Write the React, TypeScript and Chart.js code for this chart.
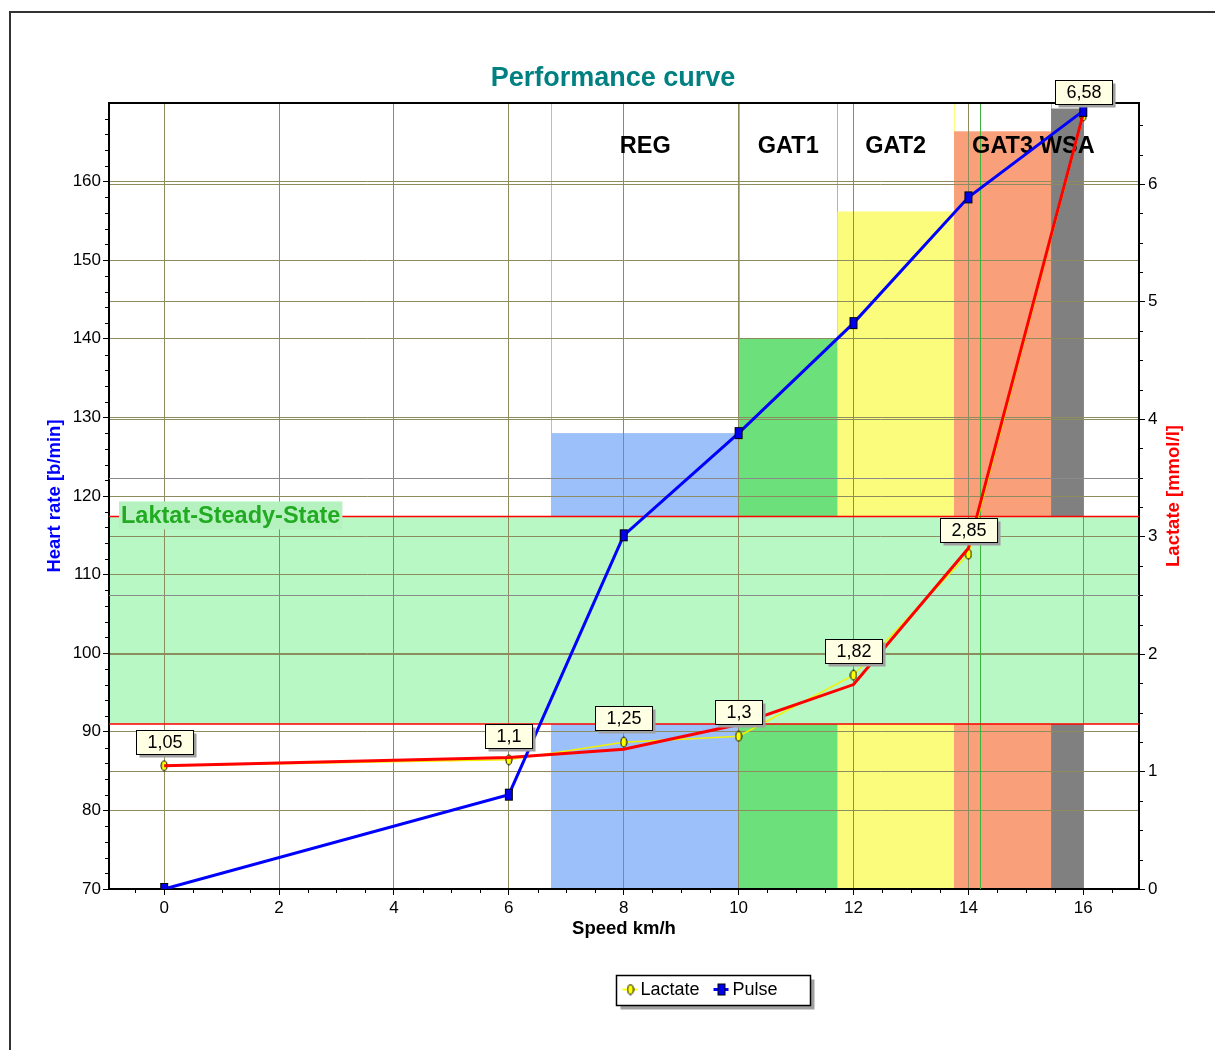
import React, { useEffect, useRef } from 'react';
import { Chart, registerables } from 'chart.js';

Chart.register(...registerables);

// ---- data ----
const speeds = [0, 6, 8, 10, 12, 14, 16];
const lactate = [1.05, 1.1, 1.25, 1.3, 1.82, 2.85, 6.58];
const lactateFit = [1.05, 1.12, 1.19, 1.4, 1.74, 2.9, 6.6];
const pulse = [70, 82, 115, 128, 142, 158, 169];

const zoneNames = ['REG', 'GAT1', 'GAT2', 'GAT3', 'WSA'];
const zoneFrom = [6.74, 10.01, 11.72, 13.75, 15.44];
const zoneTo = [10.01, 11.72, 13.75, 15.44, 16];
const zoneTopPulse = [128, 140, 156.2, 166.4, 169.3];
const zoneColors = ['#9cc0fa', '#6ce07a', '#fbfb7c', '#f9a07a', '#808080'];

const steadyStatePulse = [91, 117.4];
const markerLactate = [2.5, 3.5];
const thresholdSpeed = [14.2];

const speedTicks = [0, 2, 4, 6, 8, 10, 12, 14, 16];
const pulseTicks = [70, 80, 90, 100, 110, 120, 130, 140, 150, 160];
const lactateTicks = [0, 1, 2, 3, 4, 5, 6];

const FONT = '"Liberation Sans", Arial, Helvetica, sans-serif';
const OLIVE = '#8c8c5e';

function makeEllipse(): HTMLCanvasElement {
  const c = document.createElement('canvas');
  c.width = 8;
  c.height = 12;
  const g = c.getContext('2d')!;
  g.beginPath();
  g.ellipse(4, 6, 3, 5, 0, 0, Math.PI * 2);
  g.fillStyle = '#ffff00';
  g.fill();
  g.lineWidth = 1;
  g.strokeStyle = '#000';
  g.stroke();
  return c;
}

function makeSquare(): HTMLCanvasElement {
  const c = document.createElement('canvas');
  c.width = 10;
  c.height = 14;
  const g = c.getContext('2d')!;
  g.fillStyle = '#0000ee';
  g.fillRect(1, 1, 8, 12);
  g.lineWidth = 1;
  g.strokeStyle = '#000';
  g.strokeRect(1.5, 1.5, 7, 11);
  return c;
}

export default function App() {
  const ref = useRef<HTMLCanvasElement | null>(null);

  useEffect(() => {
    if (!ref.current) return;
    const ellipse = makeEllipse();
    const square = makeSquare();

    const decor = {
      id: 'decor',
      beforeDraw(chart: any) {
        const { ctx, chartArea: a, scales } = chart;
        const { x, y } = scales;
        ctx.save();
        // frame
        ctx.strokeStyle = '#333';
        ctx.lineWidth = 2;
        ctx.beginPath();
        ctx.moveTo(10, 1050);
        ctx.lineTo(10, 12);
        ctx.lineTo(1215, 12);
        ctx.stroke();
        // zone edge lines
        ctx.lineWidth = 1;
        zoneNames.forEach((_, i) => {
          const px = Math.round(x.getPixelForValue(zoneFrom[i])) + 0.5;
          ctx.strokeStyle = zoneColors[i];
          ctx.beginPath();
          ctx.moveTo(px, a.top);
          ctx.lineTo(px, a.bottom);
          ctx.stroke();
        });
        zoneNames.forEach((_, i) => {
          const px = Math.round(x.getPixelForValue(zoneTo[i])) + 0.5;
          ctx.strokeStyle = i === 0 ? '#6ce07a' : zoneColors[i];
          ctx.beginPath();
          ctx.moveTo(px, a.top);
          ctx.lineTo(px, a.bottom);
          ctx.stroke();
        });
        // zone fills
        zoneNames.forEach((_, i) => {
          const x0 = x.getPixelForValue(zoneFrom[i]);
          const x1 = x.getPixelForValue(zoneTo[i]);
          const yt = y.getPixelForValue(zoneTopPulse[i]);
          ctx.fillStyle = zoneColors[i];
          ctx.fillRect(x0, yt, x1 - x0, a.bottom - yt);
        });
        // steady state band
        const b0 = y.getPixelForValue(steadyStatePulse[1]);
        const b1 = y.getPixelForValue(steadyStatePulse[0]);
        ctx.fillStyle = '#b8f8c4';
        ctx.fillRect(a.left, b0, a.right - a.left, b1 - b0);
        ctx.restore();
      },
      beforeDatasetsDraw(chart: any) {
        const { ctx, chartArea: a, scales } = chart;
        const { x, y, y2 } = scales;
        ctx.save();
        // marker lines
        ctx.strokeStyle = '#8a8a8a';
        ctx.lineWidth = 1;
        markerLactate.forEach((v) => {
          const py = Math.round(y2.getPixelForValue(v)) + 0.5;
          ctx.beginPath();
          ctx.moveTo(a.left, py);
          ctx.lineTo(a.right, py);
          ctx.stroke();
        });
        ctx.strokeStyle = '#3cb43c';
        thresholdSpeed.forEach((v) => {
          const px = Math.round(x.getPixelForValue(v)) + 0.5;
          ctx.beginPath();
          ctx.moveTo(px, a.top);
          ctx.lineTo(px, a.bottom);
          ctx.stroke();
        });
        // band edges
        ctx.strokeStyle = '#ff0000';
        ctx.lineWidth = 1.5;
        steadyStatePulse.forEach((v) => {
          const py = y.getPixelForValue(v);
          ctx.beginPath();
          ctx.moveTo(a.left, py);
          ctx.lineTo(a.right, py);
          ctx.stroke();
        });
        // steady state label
        const bt = y.getPixelForValue(steadyStatePulse[1]);
        ctx.font = `bold 23.5px ${FONT}`;
        const label = 'Laktat-Steady-State';
        const tw = ctx.measureText(label).width;
        ctx.fillStyle = '#b6f2c0';
        ctx.fillRect(a.left + 10, bt - 15, tw + 4, 28);
        ctx.fillStyle = '#22aa22';
        ctx.textBaseline = 'middle';
        ctx.textAlign = 'left';
        ctx.fillText(label, a.left + 12, bt);
        // zone labels
        ctx.fillStyle = '#000';
        ctx.textAlign = 'center';
        zoneNames.forEach((n, i) => {
          const cx = (x.getPixelForValue(zoneFrom[i]) + x.getPixelForValue(zoneTo[i])) / 2;
          ctx.fillText(n, cx, a.top + 44);
        });
        // top border of plot
        ctx.strokeStyle = '#000';
        ctx.lineWidth = 2;
        ctx.beginPath();
        ctx.moveTo(a.left, a.top);
        ctx.lineTo(a.right, a.top);
        ctx.stroke();
        ctx.restore();
      },
      afterDraw(chart: any) {
        const { ctx, chartArea: a, scales } = chart;
        const { x, y, y2 } = scales;
        ctx.save();
        // minor ticks
        ctx.strokeStyle = '#000';
        ctx.lineWidth = 1;
        for (let v = y.min + 2; v < y.max; v += 2) {
          if (Math.abs(v % 10) < 1e-6) continue;
          const py = Math.round(y.getPixelForValue(v)) + 0.5;
          ctx.beginPath();
          ctx.moveTo(a.left - 4, py);
          ctx.lineTo(a.left, py);
          ctx.stroke();
        }
        for (let k = 1; k * 0.25 < y2.max; k++) {
          if (k % 4 === 0) continue;
          const py = Math.round(y2.getPixelForValue(k * 0.25)) + 0.5;
          ctx.beginPath();
          ctx.moveTo(a.right, py);
          ctx.lineTo(a.right + 4, py);
          ctx.stroke();
        }
        for (let k = -1; k * 0.5 < x.max; k++) {
          if (k % 4 === 0) continue;
          const px = Math.round(x.getPixelForValue(k * 0.5)) + 0.5;
          ctx.beginPath();
          ctx.moveTo(px, a.bottom);
          ctx.lineTo(px, a.bottom + 4);
          ctx.stroke();
        }
        // right axis title
        ctx.save();
        ctx.translate(1174, (a.top + a.bottom) / 2);
        ctx.rotate(-Math.PI / 2);
        ctx.font = `bold 18.5px ${FONT}`;
        ctx.fillStyle = '#ff0000';
        ctx.textAlign = 'center';
        ctx.textBaseline = 'middle';
        ctx.fillText('Lactate [mmol/l]', 0, 0);
        ctx.restore();
        // value labels
        const meta = chart.getDatasetMeta(2);
        ctx.font = `18px ${FONT}`;
        ctx.textAlign = 'center';
        ctx.textBaseline = 'middle';
        meta.data.forEach((pt: any, i: number) => {
          const txt = String(lactate[i]).replace('.', ',');
          const w = ctx.measureText(txt).width + 22;
          const h = 24;
          const bx = Math.round(pt.x - w / 2) + 0.5;
          const by = Math.round(pt.y - 12 - h) + 0.5;
          ctx.fillStyle = '#a0a0a0';
          ctx.fillRect(bx + 3, by + 3, w, h);
          ctx.fillStyle = '#ffffe4';
          ctx.fillRect(bx, by, w, h);
          ctx.strokeStyle = '#000';
          ctx.lineWidth = 1;
          ctx.strokeRect(bx, by, w, h);
          ctx.fillStyle = '#000';
          ctx.fillText(txt, bx + w / 2, by + h / 2 + 1);
        });
        // legend
        const lx = 616.5, ly = 975.5, lw = 194, lh = 30;
        ctx.fillStyle = '#a0a0a0';
        ctx.fillRect(lx + 4, ly + 4, lw, lh);
        ctx.fillStyle = '#fff';
        ctx.fillRect(lx, ly, lw, lh);
        ctx.strokeStyle = '#000';
        ctx.lineWidth = 1.5;
        ctx.strokeRect(lx, ly, lw, lh);
        const cy = ly + 14;
        ctx.strokeStyle = '#ffff00';
        ctx.lineWidth = 2;
        ctx.beginPath();
        ctx.moveTo(lx + 6, cy);
        ctx.lineTo(lx + 21, cy);
        ctx.stroke();
        ctx.drawImage(ellipse, lx + 14 - 4, cy - 6);
        ctx.strokeStyle = '#0000ff';
        ctx.lineWidth = 3;
        ctx.beginPath();
        ctx.moveTo(lx + 97, cy);
        ctx.lineTo(lx + 112, cy);
        ctx.stroke();
        ctx.drawImage(square, lx + 105 - 5, cy - 7);
        ctx.fillStyle = '#000';
        ctx.font = `18px ${FONT}`;
        ctx.textAlign = 'left';
        ctx.textBaseline = 'middle';
        ctx.fillText('Lactate', lx + 24, cy + 1);
        ctx.fillText('Pulse', lx + 116, cy + 1);
        ctx.restore();
      },
    };

    const tickFont = { family: FONT, size: 17 };

    const chart = new Chart(ref.current, {
      type: 'line',
      data: {
        datasets: [
          {
            label: 'Pulse',
            data: speeds.map((s, i) => ({ x: s, y: pulse[i] })),
            yAxisID: 'y',
            borderColor: '#0000ff',
            borderWidth: 3,
            pointStyle: square,
            pointRadius: 6,
            tension: 0,
            order: 1,
          },
          {
            label: 'Lactate curve',
            data: speeds.map((s, i) => ({ x: s, y: lactateFit[i] })),
            yAxisID: 'y2',
            borderColor: '#ff0000',
            borderWidth: 3,
            pointRadius: 0,
            tension: 0,
            order: 2,
          },
          {
            label: 'Lactate',
            data: speeds.map((s, i) => ({ x: s, y: lactate[i] })),
            yAxisID: 'y2',
            borderColor: '#f2f200',
            borderWidth: 1.5,
            pointStyle: ellipse,
            pointRadius: 6,
            tension: 0,
            order: 3,
          },
        ],
      },
      options: {
        animation: false,
        responsive: false,
        devicePixelRatio: 1,
        events: [],
        layout: { padding: { left: 11, right: 0, top: 0, bottom: 110 } },
        plugins: {
          legend: { display: false },
          tooltip: { enabled: false },
          title: {
            display: true,
            text: 'Performance curve',
            color: '#008080',
            font: { family: FONT, size: 27, weight: 'bold' },
            padding: { top: 62.6, bottom: 8 },
          },
        },
        scales: {
          x: {
            type: 'linear',
            min: -0.96,
            max: 16.97,
            afterBuildTicks: (s: any) => {
              s.ticks = speedTicks.map((v) => ({ value: v }));
            },
            afterFit: (s: any) => {
              s.height = 51;
            },
            ticks: { color: '#000', font: tickFont, padding: 3, autoSkip: false, maxRotation: 0 },
            grid: { color: OLIVE, tickColor: '#000', tickLength: 6, lineWidth: 1 },
            border: { color: '#000', width: 2 },
            title: {
              display: true,
              text: 'Speed km/h',
              color: '#000',
              font: { family: FONT, size: 18.5, weight: 'bold' },
              padding: { top: 0, bottom: 0 },
            },
          },
          y: {
            type: 'linear',
            position: 'left',
            min: 70,
            max: 170,
            afterBuildTicks: (s: any) => {
              s.ticks = pulseTicks.map((v) => ({ value: v }));
            },
            afterFit: (s: any) => {
              s.width = 98;
            },
            ticks: { color: '#000', font: tickFont, padding: 2, autoSkip: false },
            grid: { color: OLIVE, tickColor: '#000', tickLength: 6, lineWidth: 1 },
            border: { color: '#000', width: 2 },
            title: {
              display: true,
              text: 'Heart rate [b/min]',
              color: '#0000ff',
              font: { family: FONT, size: 18.5, weight: 'bold' },
              padding: { top: 32.9, bottom: 0 },
            },
          },
          y2: {
            type: 'linear',
            position: 'right',
            min: 0,
            max: 6.69,
            afterBuildTicks: (s: any) => {
              s.ticks = lactateTicks.map((v) => ({ value: v }));
            },
            afterFit: (s: any) => {
              s.width = 76;
            },
            ticks: { color: '#000', font: tickFont, padding: 3, autoSkip: false },
            grid: { color: OLIVE, tickColor: '#000', tickLength: 6, lineWidth: 1, drawOnChartArea: true },
            border: { color: '#000', width: 2 },
          },
        },
      },
      plugins: [decor],
    } as any);

    return () => chart.destroy();
  }, []);

  return (
    <div style={{ position: 'fixed', left: 0, top: 0, width: 1215, height: 1050, background: '#fff' }}>
      <canvas ref={ref} width={1215} height={1050} style={{ display: 'block' }} />
    </div>
  );
}
